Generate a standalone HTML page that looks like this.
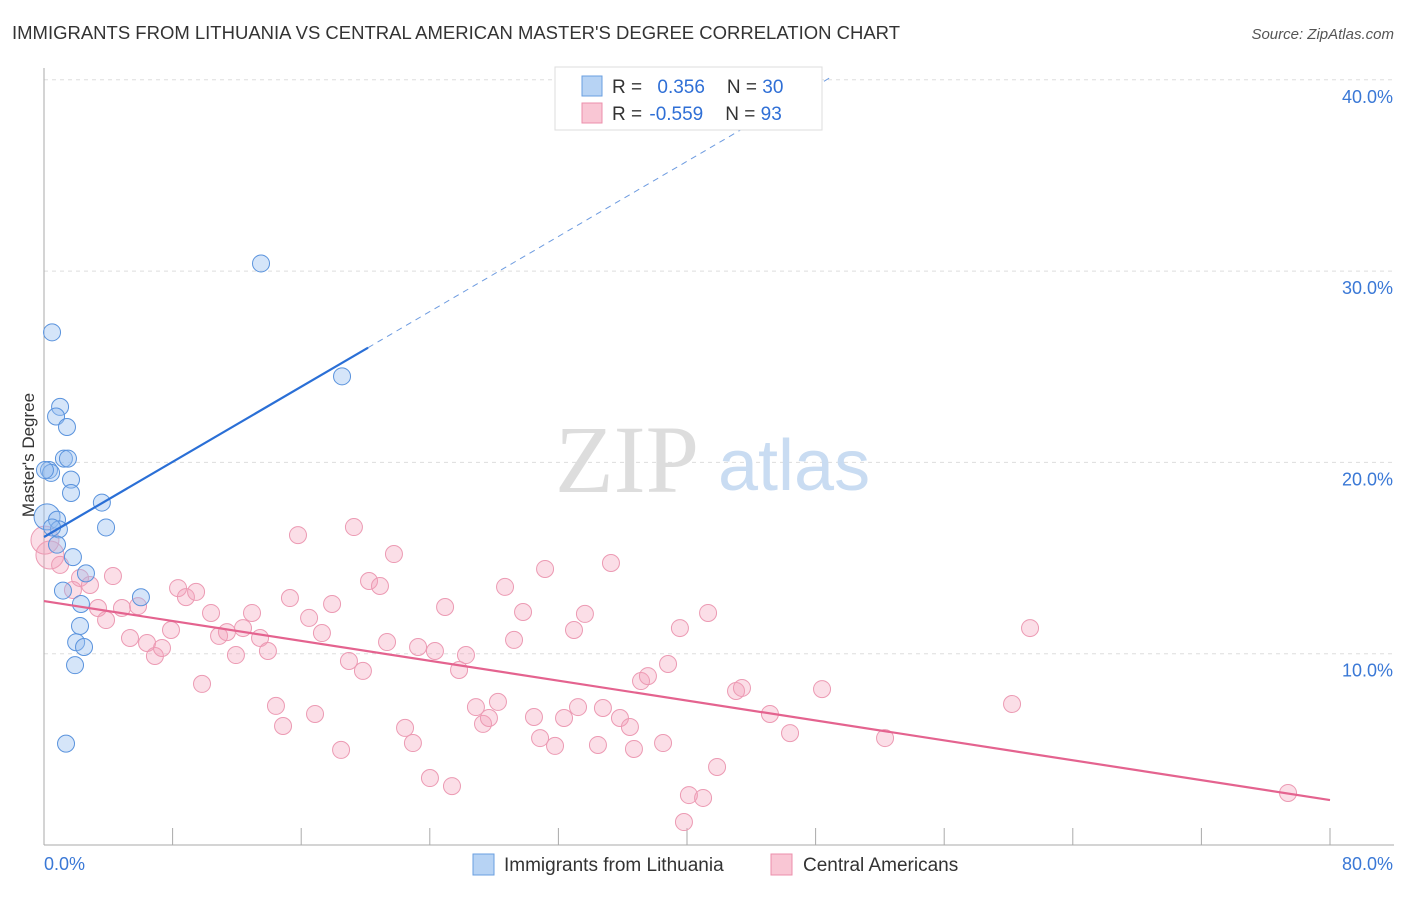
<!DOCTYPE html>
<html><head><meta charset="utf-8"><style>
body{margin:0;background:#fff;font-family:"Liberation Sans",sans-serif}
</style></head><body>
<svg id="chart" width="1406" height="892" xmlns="http://www.w3.org/2000/svg" style="font-family:'Liberation Sans',sans-serif">
<text x="12" y="39" font-size="18" fill="#333" textLength="888" lengthAdjust="spacingAndGlyphs">IMMIGRANTS FROM LITHUANIA VS CENTRAL AMERICAN MASTER'S DEGREE CORRELATION CHART</text>
<text x="1394" y="39" font-size="15" fill="#555" text-anchor="end" font-style="italic">Source: ZipAtlas.com</text>
<g id="grid"></g>
<text x="555" y="492" font-size="96" fill="#ddd" font-family="Liberation Serif">ZIP</text>
<text x="718" y="490" font-size="72" fill="#c9dcf2">atlas</text>
<g id="marks"></g>
<text transform="translate(34,455) rotate(-90)" font-size="17" fill="#333" text-anchor="middle">Master's Degree</text>
<g>
<rect x="555" y="67" width="267" height="63" fill="#fff" stroke="#ddd"/>
<rect x="582" y="76" width="20" height="20" fill="#b7d3f4" stroke="#6a9fe0"/>
<rect x="582" y="103" width="20" height="20" fill="#f9c6d4" stroke="#ec8fab"/>
<text x="612" y="93" font-size="19" fill="#333">R = <tspan fill="#2f6fd6" dx="10">0.356</tspan><tspan dx="22" fill="#333">N = </tspan><tspan fill="#2f6fd6">30</tspan></text>
<text x="612" y="120" font-size="19" fill="#333">R = <tspan fill="#2f6fd6" dx="2">-0.559</tspan><tspan dx="22" fill="#333">N = </tspan><tspan fill="#2f6fd6">93</tspan></text>
</g>
<g>
<rect x="473" y="854" width="21" height="21" fill="#b7d3f4" stroke="#6a9fe0"/>
<text x="504" y="871" font-size="19" fill="#333">Immigrants from Lithuania</text>
<rect x="771" y="854" width="21" height="21" fill="#f9c6d4" stroke="#ec8fab"/>
<text x="803" y="871" font-size="19" fill="#333">Central Americans</text>
</g>
</svg>
<script>
const yTicks=[10,20,30,40];
const yTickLabels=["10.0%","20.0%","30.0%","40.0%"];
const xTickVals=[0,8,16,24,32,40,48,56,64,72,80];
const blueX=[0.5,1.0,0.75,1.43,1.24,1.49,0.31,0.44,1.68,1.68,3.6,3.86,0.19,0.81,0.93,0.81,1.8,2.61,1.18,2.3,2.24,2.0,2.49,1.93,1.37,6.03,13.5,18.54,0.06,0.5];
const blueY=[26.8,22.9,22.4,21.85,20.2,20.2,19.6,19.45,19.1,18.4,17.9,16.6,17.15,17.0,16.5,15.7,15.05,14.2,13.3,12.6,11.45,10.6,10.35,9.4,5.3,12.95,30.4,24.5,19.6,16.6];
const pinkX=[0.37,1.0,1.8,2.24,2.86,3.36,3.86,4.29,4.85,5.35,5.85,6.41,6.9,7.34,7.9,8.34,8.83,9.46,9.83,10.39,10.89,11.38,11.94,12.38,12.94,13.44,13.93,14.43,14.87,15.3,15.8,16.49,16.86,17.29,17.92,18.48,18.97,19.28,19.84,20.22,20.9,21.34,21.77,22.46,22.95,23.27,24.01,24.32,25.38,25.82,26.25,24.95,26.87,27.31,27.68,28.24,28.68,29.24,29.8,30.48,30.86,31.17,31.79,32.35,32.97,33.22,33.65,34.46,34.77,35.27,35.83,36.45,36.7,37.14,37.57,38.51,38.82,39.56,39.81,40.12,41.0,41.31,41.87,43.05,43.42,45.16,46.41,48.4,52.32,60.22,61.34,77.39,0.06];
const pinkY=[15.16,14.64,13.33,13.96,13.59,12.39,11.76,14.06,12.39,10.82,12.49,10.56,9.88,10.3,11.24,13.43,12.96,13.23,8.42,12.13,10.93,11.13,9.93,11.34,12.13,10.82,10.14,7.27,6.22,12.91,16.2,11.87,6.85,11.08,12.6,4.97,9.62,16.62,9.1,13.8,13.54,10.61,15.21,6.12,5.33,10.35,3.5,10.14,3.08,9.15,9.93,12.44,7.21,6.33,6.64,7.48,13.49,10.72,12.18,6.69,5.59,14.43,5.18,6.64,11.24,7.21,12.08,5.23,7.16,14.74,6.64,6.17,5.02,8.57,8.83,5.33,9.46,11.34,1.2,2.61,2.46,12.13,4.08,8.05,8.21,6.85,5.85,8.15,5.59,7.37,11.34,2.72,15.94];
const blueTrend=[16.1,0.491];
const pinkTrend=[12.75,-0.13];
const X=v=>44+v*16.075, Y=v=>845-v*19.13;
const NS="http://www.w3.org/2000/svg";
function mk(t,a,p){const e=document.createElementNS(NS,t);for(const k in a)e.setAttribute(k,a[k]);p.appendChild(e);return e;}
const grid=document.getElementById('grid'),marks=document.getElementById('marks');
yTicks.forEach((v,i)=>{
 const l=mk('line',{x1:44,x2:1394,y1:Y(v),y2:Y(v),stroke:'#ddd','stroke-dasharray':'4,4'},grid);
 
 
 const t=mk('text',{x:1393,y:Y(v)+23,'font-size':18,fill:'#3a78d6','text-anchor':'end'},grid);
 t.textContent=yTickLabels[i];
 
 
});
const ax=mk('line',{x1:44,x2:44,y1:68,y2:845,stroke:'#aaa'},grid);


const bx=mk('line',{x1:44,x2:1394,y1:845,y2:845,stroke:'#aaa'},grid);


xTickVals.forEach(v=>{const t=mk('line',{x1:X(v),x2:X(v),y1:828,y2:845,stroke:'#aaa'},grid);
 
 });
const x0=mk('text',{x:44,y:870,'font-size':18,fill:'#3a78d6'},grid);x0.textContent='0.0%';


const x1=mk('text',{x:1393,y:870,'font-size':18,fill:'#3a78d6','text-anchor':'end'},grid);x1.textContent='80.0%';


pinkX.forEach((v,i)=>{const c=mk('circle',{cx:X(v),cy:Y(pinkY[i]),r:(i==0||i==pinkX.length-1)?14:8.5,fill:'rgba(244,160,186,0.35)',stroke:'#ec9ab3','stroke-width':1},marks);
 
 });
blueX.forEach((v,i)=>{const c=mk('circle',{cx:X(v),cy:Y(blueY[i]),r:i==12?13:8.5,fill:'rgba(150,190,240,0.4)',stroke:'#5a93dd','stroke-width':1},marks);
 
 });
const bs=mk('line',{x1:X(0),y1:Y(blueTrend[0]),x2:X(20.16),y2:Y(blueTrend[0]+blueTrend[1]*20.16),stroke:'#2a6fd6','stroke-width':2.2},marks);


const bd=mk('line',{x1:X(20.16),y1:Y(blueTrend[0]+blueTrend[1]*20.16),x2:X(48.9),y2:Y(blueTrend[0]+blueTrend[1]*48.9),stroke:'#6d9be0','stroke-width':1,'stroke-dasharray':'6,5'},marks);


const pl=mk('line',{x1:X(0),y1:Y(pinkTrend[0]),x2:X(80),y2:Y(pinkTrend[0]+pinkTrend[1]*80),stroke:'#e4638f','stroke-width':2.2},marks);


</script>
</body></html>
